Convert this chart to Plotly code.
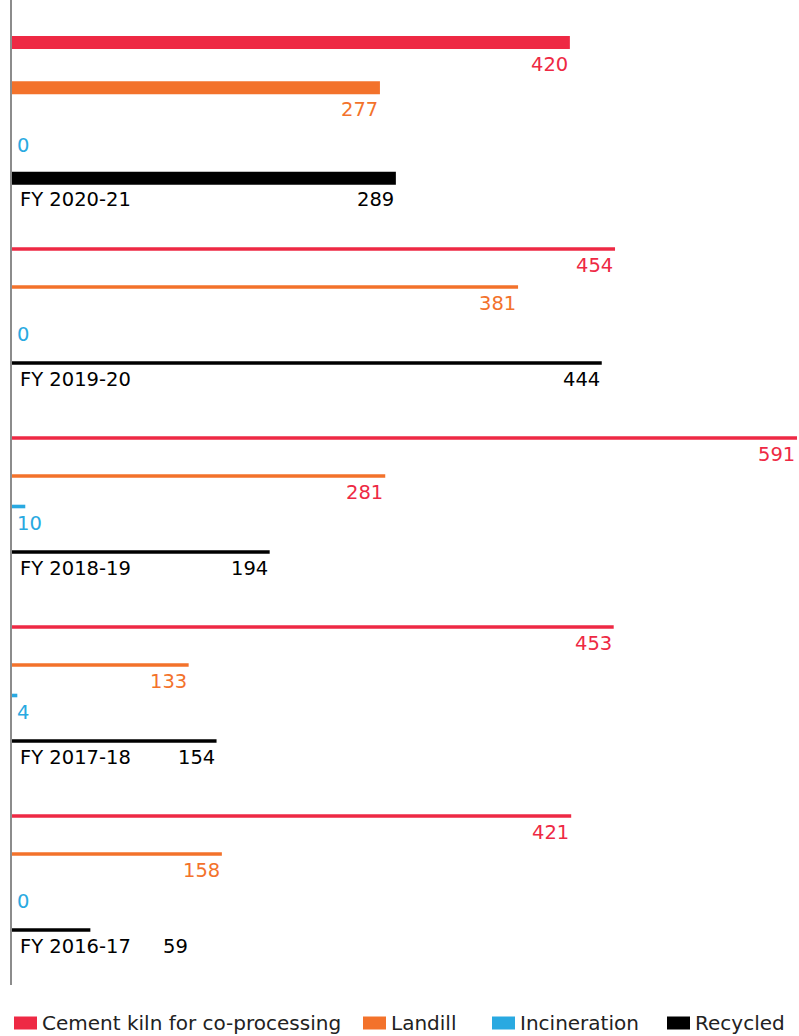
import plotly.graph_objects as go

# Waste disposal by route, in tonnes
years = ["FY 2020-21", "FY 2019-20", "FY 2018-19", "FY 2017-18", "FY 2016-17"]
series_names = ["Cement kiln for co-processing", "Landill", "Incineration", "Recycled"]
cement_kiln = [420, 454, 591, 453, 421]
landfill = [277, 381, 281, 133, 158]
incineration = [0, 0, 10, 4, 0]
recycled = [289, 444, 194, 154, 59]

colors = ["#EE2944", "#F3722B", "#29A9E1", "#000000"]

# ---- layout geometry (vertical axis measured in pixels, top = 0) ----
W, H = 799, 1036
M_L, M_R, M_T, M_B = 12, 2, 0, 51
PLOT_H = H - M_T - M_B
X_MAX = 591

group_anchor = [42.5, 249, 438, 627, 816]    # centre of first bar of each year
slot_offset = [0, 38, 68.5, 114]              # bar spacing inside a year
group_scale = [1.19, 1, 1, 1, 1]              # latest year drawn larger
bar_thick = [13, 3.6, 3.6, 3.6, 3.6]

values = [cement_kiln, landfill, incineration, recycled]

fig = go.Figure()
for s, (name, vals) in enumerate(zip(series_names, values)):
    ys = [group_anchor[g] + slot_offset[s] * group_scale[g] for g in range(len(years))]
    fig.add_trace(go.Bar(
        name=name, orientation="h", x=vals, y=ys, width=bar_thick,
        marker=dict(color=colors[s], line=dict(width=0)),
        showlegend=False, hoverinfo="x",
    ))

FONT = "DejaVu Sans"
LABEL_SIZE = 19.5
px_per_unit = (W - M_L - M_R) / X_MAX

def label_width(text, size=LABEL_SIZE):
    return len(text) * 0.636 * size

annotations = []
for s, vals in enumerate(values):
    for g, v in enumerate(vals):
        y_bar = group_anchor[g] + slot_offset[s] * group_scale[g]
        y_lab = y_bar + bar_thick[g] / 2 + 15
        txt = str(v)
        col = colors[s]
        if s == 1 and g == 2:
            col = colors[0]
        if s == 3:
            # keep the value clear of the year label
            x_at = max(v, 134)
            anchor, shift = "right", 0
        elif v * px_per_unit < label_width(txt) + 4:
            x_at, anchor, shift = 0, "left", 3
        else:
            x_at, anchor, shift = v, "right", 0
        annotations.append(dict(
            x=x_at, y=y_lab, xref="x", yref="y", text=txt, showarrow=False,
            xanchor=anchor, yanchor="middle", xshift=shift,
            font=dict(family=FONT, size=LABEL_SIZE, color=col),
        ))
    if s == 3:
        for g, yr in enumerate(years):
            y_bar = group_anchor[g] + slot_offset[s] * group_scale[g]
            annotations.append(dict(
                x=0, y=y_bar + bar_thick[g] / 2 + 15, xref="x", yref="y", text=yr,
                showarrow=False, xanchor="left", yanchor="middle", xshift=6,
                font=dict(family=FONT, size=LABEL_SIZE, color="#000000"),
            ))

# ---- legend row along the bottom ----
def paper_x(px):
    return (px - M_L) / (W - M_L - M_R)

def paper_y(py):
    return (M_T + PLOT_H - py) / PLOT_H

legend_x = [14, 363, 492, 667]
sw_w, sw_h, leg_y = 23, 13, 1023
shapes = []
for i, name in enumerate(series_names):
    x0 = legend_x[i]
    shapes.append(dict(
        type="rect", xref="paper", yref="paper",
        x0=paper_x(x0), x1=paper_x(x0 + sw_w),
        y0=paper_y(leg_y + sw_h / 2), y1=paper_y(leg_y - sw_h / 2),
        fillcolor=colors[i], line=dict(width=0),
    ))
    annotations.append(dict(
        x=paper_x(x0 + sw_w + 3), y=paper_y(leg_y), xref="paper", yref="paper",
        text=name, showarrow=False, xanchor="left", yanchor="middle",
        font=dict(family=FONT, size=20, color="#222222"),
    ))

fig.update_layout(
    width=W, height=H,
    margin=dict(l=M_L, r=M_R, t=M_T, b=M_B, pad=0),
    paper_bgcolor="white", plot_bgcolor="white",
    barmode="overlay",
    xaxis=dict(range=[0, X_MAX], visible=False, fixedrange=True),
    yaxis=dict(range=[PLOT_H, 0], showline=True, linecolor="#8C8C8C", linewidth=2,
               showgrid=False, zeroline=False, showticklabels=False, ticks="",
               fixedrange=True),
    annotations=annotations, shapes=shapes,
    showlegend=False,
)

fig.write_html("out.html")
